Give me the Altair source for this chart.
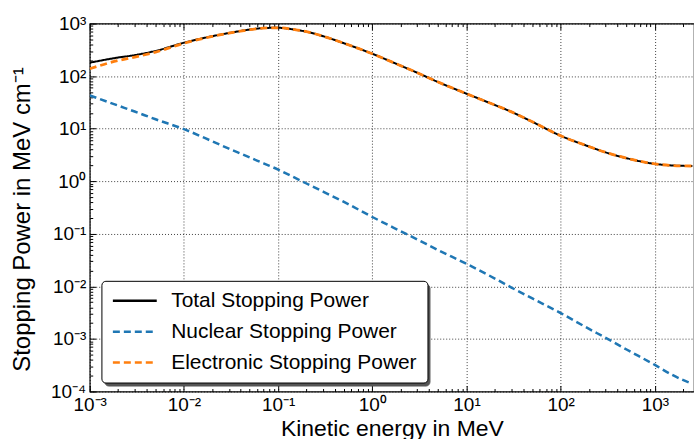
import json
import altair as alt
import pandas as pd

# ---------------- data ----------------
energy = [0.001, 0.002, 0.003, 0.005, 0.01, 0.02, 0.03, 0.05, 0.07, 0.1, 0.15,
          0.2, 0.3, 0.5, 1, 2, 3, 5, 10, 20, 30, 50, 100, 200, 300, 500, 1000,
          1500, 2500]
total = [180, 226, 251, 302, 432, 575, 661, 769, 822, 832, 767,
         700, 575, 422, 266, 158, 116, 77, 46.3, 28.2, 20.9, 13.5, 7.33, 4.57,
         3.55, 2.75, 2.14, 2.0, 1.95]
nuclear = [43, 27.5, 21.2, 15.1, 9.8, 5.75, 4.17, 2.84, 2.19, 1.67, 1.17,
           0.906, 0.634, 0.405, 0.209, 0.112, 0.078, 0.049, 0.0269, 0.0141,
           0.0095, 0.0059, 0.0031, 0.00155, 0.00105, 0.00063, 0.00032,
           0.00021, 0.00014]
electronic = [138, 198, 230, 287, 422, 569, 657, 766, 820, 830, 766,
              699, 574, 422, 266, 158, 116, 77, 46.3, 28.2, 20.9, 13.5, 7.33,
              4.57, 3.55, 2.75, 2.14, 2.0, 1.95]

series_names = ["Total Stopping Power", "Nuclear Stopping Power",
                "Electronic Stopping Power"]
series_colors = ["#000000", "#1f77b4", "#ff7f0e"]
series_dashes = [[1, 0], [7, 4], [7, 4]]
series_widths = [2, 2.5, 2.8]

x_major = [1e-3, 1e-2, 1e-1, 1, 10, 100, 1000]
x_tick_labels = ["10⁻³", "10⁻²", "10⁻¹", "10⁰", "10¹", "10²", "10³"]
y_major = [1e-4, 1e-3, 1e-2, 1e-1, 1, 10, 100, 1000]
y_tick_labels = ["10⁻⁴", "10⁻³", "10⁻²", "10⁻¹", "10⁰", "10¹", "10²", "10³"]

x_minor = [k * 10.0 ** d for d in range(-3, 4) for k in range(2, 10)
           if k * 10.0 ** d <= 2600]
y_minor = [k * 10.0 ** d for d in range(-4, 3) for k in range(2, 10)]

# ---------------- table ----------------
rows = []
for name, vals in zip(series_names, [total, nuclear, electronic]):
    for e, s in zip(energy, vals):
        rows.append({"E": e, "S": s, "series": name, "shadow": name})
df = pd.DataFrame(rows)

W, H = 606, 369
FONT = "Liberation Sans"
xscale = alt.Scale(type="log", domain=[1e-3, 2600], nice=False)
yscale = alt.Scale(type="log", domain=[1e-4, 1e3], nice=False)

x_expr = json.dumps(x_tick_labels, ensure_ascii=False) + "[round(log(datum.value)/LN10)+3]"
y_expr = json.dumps(y_tick_labels, ensure_ascii=False) + "[round(log(datum.value)/LN10)+4]"

legend_common = dict(
    orient="none", title=None, padding=10, clipHeight=20, rowPadding=10,
    labelFont=FONT, labelFontSize=21, labelLimit=500,
    symbolType="stroke", symbolStrokeWidth=2.5, cornerRadius=4,
)
main_legend = alt.Legend(legendX=11.7, legendY=258, fillColor="white",
                         strokeColor="black", labelColor="black", zindex=1,
                         labelOffset=13, symbolSize=1936, **legend_common)
# shadow box: same outer size, drawn from one long invisible symbol, no label text
shadow_legend = alt.Legend(legendX=14.7, legendY=261, fillColor="#555555",
                           strokeColor="#555555", symbolOpacity=0,
                           labelExpr="''", labelOffset=0, symbolSize=92100,
                           zindex=0, **legend_common)

# ---------------- line layers ----------------
line_layers = []
for name, w in zip(series_names, series_widths):
    line_layers.append(
        alt.Chart(df).transform_filter(alt.datum.series == name)
        .mark_line(strokeWidth=w, clip=True, interpolate="monotone")
        .encode(
            x=alt.X("E:Q", scale=xscale, axis=None),
            y=alt.Y("S:Q", scale=yscale, axis=None),
            color=alt.Color("series:N", scale=alt.Scale(domain=series_names, range=series_colors),
                            legend=main_legend),
            strokeDash=alt.StrokeDash("series:N", scale=alt.Scale(domain=series_names, range=series_dashes),
                                      legend=main_legend),
        )
    )

# legend shadow (second legend drawn beneath the main one)
shadow_layer = alt.Chart(df).mark_point(opacity=0).encode(
    x=alt.X("E:Q", scale=xscale, axis=None),
    y=alt.Y("S:Q", scale=yscale, axis=None),
    shape=alt.Shape("shadow:N", scale=alt.Scale(range=["stroke", "stroke", "stroke"]),
                    legend=shadow_legend),
)

# ---------------- axes ----------------
label_layer = alt.Chart(df).mark_point(opacity=0).encode(
    x=alt.X("E:Q", scale=xscale, axis=alt.Axis(
        orient="bottom", values=x_major, labelExpr=x_expr, ticks=False, tickSize=0,
        domain=False, grid=True, gridDash=[1, 2], gridColor="black", gridOpacity=0.75,
        labelFont=FONT, labelFontSize=19, labelPadding=4, labelColor="black",
        labelFlush=False, labelOverlap=False,
        title="Kinetic energy in MeV", titleFont=FONT, titleFontSize=23,
        titleFontWeight="normal", titleColor="black", titleX=303, titleY=44.5,
        titleBaseline="alphabetic")),
    y=alt.Y("S:Q", scale=yscale, axis=alt.Axis(
        orient="left", values=y_major, labelExpr=y_expr, ticks=False, tickSize=0,
        domain=False, grid=True, gridDash=[1, 2], gridColor="black", gridOpacity=0.75,
        labelFont=FONT, labelFontSize=19, labelPadding=4, labelColor="black",
        labelFlush=False, labelOverlap=False,
        title="Stopping Power in MeV cm⁻¹", titleFont=FONT, titleFontSize=24,
        titleFontWeight="normal", titleColor="black", titleX=-60, titleY=196,
        titleBaseline="alphabetic")),
)


def tick_axis(values, orient, offset, size):
    return alt.Axis(values=values, orient=orient, offset=offset, labels=False,
                    title=None, domain=False, grid=False, ticks=True,
                    tickSize=size, tickColor="black", tickWidth=1)


def tick_layer(xvals, yvals, size, x_orient, x_off, y_orient=None, y_off=0):
    yax = tick_axis(yvals, y_orient, y_off, size) if y_orient else None
    return alt.Chart(df).mark_point(opacity=0).encode(
        x=alt.X("E:Q", scale=xscale, axis=tick_axis(xvals, x_orient, x_off, size)),
        y=alt.Y("S:Q", scale=yscale, axis=yax),
    )


ticks = [
    tick_layer(x_major, y_major, 6, "top", -H, "right", -W),   # bottom & left, inward
    tick_layer(x_minor, y_minor, 3, "top", -H, "right", -W),
    tick_layer(x_major, None, 6, "bottom", -H),                 # top, inward
    tick_layer(x_minor, None, 3, "bottom", -H),
]

chart = alt.layer(label_layer, *ticks, *line_layers, shadow_layer).resolve_axis(
    x="independent", y="independent"
).properties(
    width=W, height=H,
    autosize=alt.AutoSizeParams(type="none"),
    padding={"left": 90, "top": 23, "right": 0, "bottom": 47},
).configure_view(stroke="black", strokeWidth=1.2)

chart.save("out.html", embed_options={"renderer": "svg", "actions": False})
